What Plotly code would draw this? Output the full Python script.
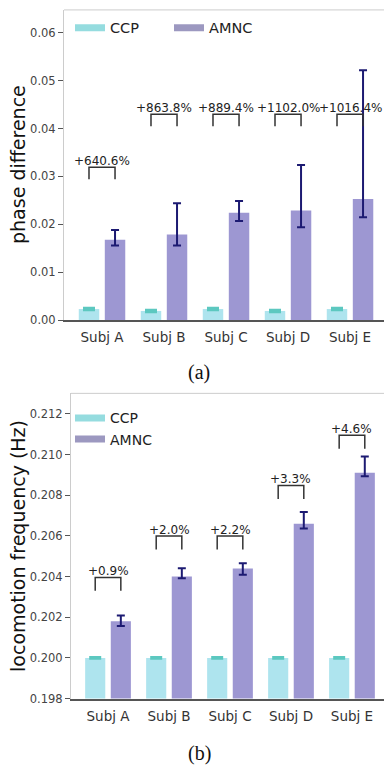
import plotly.graph_objects as go

subjects = ["Subj A", "Subj B", "Subj C", "Subj D", "Subj E"]

# (a) phase difference
ccp_phase = [0.0023, 0.0019, 0.0023, 0.0019, 0.0023]
ccp_phase_err = [0.0002, 0.0002, 0.0002, 0.0002, 0.0002]
amnc_phase = [0.0168, 0.0179, 0.0224, 0.0229, 0.0253]
amnc_phase_up = [0.0020, 0.0065, 0.0025, 0.0095, 0.0269]
amnc_phase_down = [0.0012, 0.0023, 0.0017, 0.0035, 0.0038]
phase_pct = ["+640.6%", "+863.8%", "+889.4%", "+1102.0%", "+1016.4%"]
phase_bracket = [0.0319, 0.0430, 0.0430, 0.0430, 0.0430]

# (b) locomotion frequency
ccp_freq = [0.2000, 0.2000, 0.2000, 0.2000, 0.2000]
ccp_freq_err = [0.00003, 0.00003, 0.00003, 0.00003, 0.00003]
amnc_freq = [0.2018, 0.2040, 0.2044, 0.2066, 0.2091]
amnc_freq_up = [0.00029, 0.00041, 0.00026, 0.00058, 0.00081]
amnc_freq_down = [0.00023, 0.00008, 0.00031, 0.00023, 0.00017]
freq_pct = ["+0.9%", "+2.0%", "+2.2%", "+3.3%", "+4.6%"]
freq_bracket = [0.20396, 0.20599, 0.20599, 0.20848, 0.21095]

FONT = "DejaVu Sans"
CCP_COL = "#aee4ee"
CCP_EDGE = "#5cc8c0"
AMNC_COL = "#9d97d2"
ERR_COL = "#1c1a72"
BAR_W = 0.33
HALF = 0.21
idx = list(range(len(subjects)))

fig = go.Figure()


def add_panel(xa, ya, ccp, ccp_err, amnc, up, down, pct, bracket, drop, legend):
    fig.add_trace(go.Bar(
        x=idx, y=ccp, width=BAR_W, offset=-HALF - BAR_W / 2,
        marker=dict(color=CCP_COL, line=dict(width=0)),
        error_y=dict(type="data", array=ccp_err, color=CCP_EDGE, thickness=2.5, width=6),
        xaxis=xa, yaxis=ya, showlegend=False))
    fig.add_trace(go.Bar(
        x=idx, y=amnc, width=BAR_W, offset=HALF - BAR_W / 2,
        marker=dict(color=AMNC_COL, line=dict(width=0)),
        error_y=dict(type="data", symmetric=False, array=up, arrayminus=down,
                     color=ERR_COL, thickness=2, width=4),
        xaxis=xa, yaxis=ya, showlegend=False))
    bx, by = [], []
    for i, h in zip(idx, bracket):
        bx += [i - HALF, i - HALF, i + HALF, i + HALF, None]
        by += [h - drop, h, h, h - drop, None]
    fig.add_trace(go.Scatter(x=bx, y=by, mode="lines",
                             line=dict(color="#333333", width=1.5),
                             xaxis=xa, yaxis=ya, showlegend=False, hoverinfo="skip"))
    for i, h, t in zip(idx, bracket, pct):
        fig.add_annotation(x=i, y=h, xref=xa, yref=ya, text=t, showarrow=False,
                           yanchor="bottom", yshift=-3,
                           font=dict(family=FONT, size=12, color="#222222"))
    # legend proxies
    fig.add_trace(go.Scatter(x=[None], y=[None], mode="lines", name="CCP",
                             line=dict(color="#95dcdf", width=7),
                             xaxis=xa, yaxis=ya, legend=legend))
    fig.add_trace(go.Scatter(x=[None], y=[None], mode="lines", name="AMNC",
                             line=dict(color="#9c98c0", width=7),
                             xaxis=xa, yaxis=ya, legend=legend))


add_panel("x", "y", ccp_phase, ccp_phase_err, amnc_phase, amnc_phase_up,
          amnc_phase_down, phase_pct, phase_bracket, 0.0025, "legend")
add_panel("x2", "y2", ccp_freq, ccp_freq_err, amnc_freq, amnc_freq_up,
          amnc_freq_down, freq_pct, freq_bracket, 0.00066, "legend2")

H = 766.0
W = 384.0
top_dom = [1 - 323 / H, 1 - 10 / H]
bot_dom = [1 - 705 / H, 1 - 397 / H]

xcommon = dict(tickvals=idx, ticktext=subjects, showgrid=False, zeroline=False,
               showline=True, linecolor="#555555", linewidth=1.5,
               ticks="outside", ticklen=4, tickcolor="rgba(0,0,0,0)",
               tickfont=dict(family=FONT, size=13.5, color="#333333"))
ycommon = dict(showgrid=False, zeroline=False, showline=True, linecolor="#cccccc",
               linewidth=1, ticks="outside", ticklen=5, tickcolor="#555555",
               tickfont=dict(family=FONT, size=11.5, color="#444444"))

fig.update_layout(
    width=384, height=766, margin=dict(l=0, r=0, t=0, b=0),
    paper_bgcolor="white", plot_bgcolor="white", barmode="overlay",
    xaxis=dict(domain=[64 / W, 1], range=[-0.613, 4.548], anchor="y", **xcommon),
    yaxis=dict(domain=top_dom, range=[0, 0.0648], anchor="x",
               tickvals=[0, 0.01, 0.02, 0.03, 0.04, 0.05, 0.06],
               tickformat=".2f", **ycommon),
    xaxis2=dict(domain=[71 / W, 1], range=[-0.607, 4.525], anchor="y2", **xcommon),
    yaxis2=dict(domain=bot_dom, range=[0.198, 0.21301], anchor="x2",
                tickvals=[0.198, 0.200, 0.202, 0.204, 0.206, 0.208, 0.210, 0.212],
                tickformat=".3f", **ycommon),
    legend=dict(orientation="h", x=70 / W, y=1 - 28 / H, yanchor="middle",
                xanchor="left", bgcolor="rgba(255,255,255,0)",
                entrywidth=54, font=dict(family=FONT, size=14.5, color="#222222")),
    legend2=dict(orientation="v", x=70 / W, y=1 - 406 / H, yanchor="top",
                 xanchor="left", bgcolor="rgba(255,255,255,0)", tracegroupgap=0,
                 font=dict(family=FONT, size=14, color="#222222")),
    showlegend=True,
)

# y-axis titles
fig.add_annotation(x=18 / W, y=sum(top_dom) / 2, xref="paper", yref="paper",
                   text="phase difference", textangle=-90, showarrow=False,
                   xanchor="center", yanchor="middle",
                   font=dict(family=FONT, size=19, color="#111111"))
fig.add_annotation(x=18 / W, y=sum(bot_dom) / 2, xref="paper", yref="paper",
                   text="locomotion frequency (Hz)", textangle=-90, showarrow=False,
                   xanchor="center", yanchor="middle",
                   font=dict(family=FONT, size=19, color="#111111"))

# light frame on the top of each panel
for xd, yd in [("x domain", "y domain"), ("x2 domain", "y2 domain")]:
    fig.add_shape(type="line", xref=xd, yref=yd, x0=0, x1=1, y0=1, y1=1,
                  line=dict(color="#cccccc", width=1))

fig.add_annotation(x=199 / W, y=1 - 376 / H, xref="paper", yref="paper", text="(a)",
                   xanchor="center", yanchor="middle",
                   showarrow=False, font=dict(family="Liberation Serif", size=20, color="#111111"))
fig.add_annotation(x=199 / W, y=0, xref="paper", yref="paper", text="(b)",
                   xanchor="center", yanchor="bottom", yshift=-8,
                   showarrow=False, font=dict(family="Liberation Serif", size=20, color="#111111"))

fig.write_html(
    "out.html",
    config={"displayModeBar": False},
    post_script="document.body.style.margin='0';document.body.style.overflow='hidden';",
)
